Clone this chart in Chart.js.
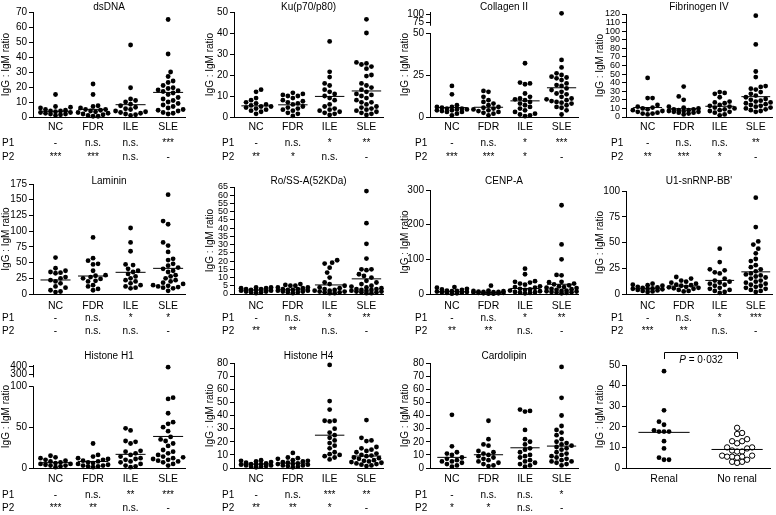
<!DOCTYPE html>
<html><head><meta charset="utf-8">
<script src="https://cdn.jsdelivr.net/npm/chart.js@4.4.1/dist/chart.umd.min.js"></script>
<style>
html,body{margin:0;padding:0;background:#fff;}
#wrap{position:relative;width:776px;height:515px;overflow:hidden;background:#fff;}
canvas{position:absolute;}
</style></head><body><div id="wrap"></div>
<script>
// ---------------- categories ----------------
const groups = ['NC', 'FDR', 'ILE', 'SLE'];
const renalGroups = ['Renal', 'No renal'];
const yTitle = 'IgG : IgM ratio';

// ---------------- dsDNA ----------------
const dsDNA_NC  = [15, 7, 6.5, 6, 5, 4.5, 4, 4, 3.5, 3, 3, 2.5, 2, 2, 1.5, 1];
const dsDNA_FDR = [22, 15, 7.5, 7, 6, 5, 5, 4.5, 4, 3.5, 3, 2.5, 2, 1.5, 1, 0.5, 0.5];
const dsDNA_ILE = [48, 19.5, 12, 11, 10, 8.5, 7.5, 6.5, 5.5, 5, 4, 3.5, 3, 2.5, 2, 1.5, 1];
const dsDNA_SLE = [65, 42, 30, 27, 24, 23, 21, 19.5, 19, 18, 17.5, 17, 16, 15, 13, 12, 11, 10, 9, 8, 7, 6, 5, 4.5, 4, 3, 2.5, 2];
const dsDNA_median = [3.8, 5.1, 8.2, 16.4];
const dsDNA_ticks = [0, 10, 20, 30, 40, 50, 60, 70];
const dsDNA_P1 = ['-', 'n.s.', 'n.s.', '***'];
const dsDNA_P2 = ['***', '***', 'n.s.', '-'];

// ---------------- Ku(p70/p80) ----------------
const ku_NC  = [13, 12, 9, 8, 7, 6.5, 6, 5.5, 5, 5, 4.5, 4, 3.5, 3, 2.5, 1.5];
const ku_FDR = [11.5, 11, 10.5, 10, 10, 9, 8, 7.5, 7, 6.5, 6, 5, 4.5, 4, 3.5, 3, 2, 1.5, 0.5];
const ku_ILE = [36, 21.5, 19, 16, 15, 13, 12, 11, 10, 9, 8, 6, 5, 4, 3.5, 3, 2.5, 2, 1.5, 1];
const ku_SLE = [46.5, 40, 26, 25.5, 25, 24, 23, 20, 19.5, 16, 15, 14, 13, 12, 11, 10.5, 10, 9, 8, 7, 7, 6, 5, 4.5, 4, 3.5, 3, 2.5, 2, 1.5, 1];
const ku_median = [5.3, 5.8, 9.8, 12.4];
const ku_ticks = [0, 10, 20, 30, 40, 50];
const ku_P1 = ['-', 'n.s.', '*', '**'];
const ku_P2 = ['**', '*', 'n.s.', '-'];

// ---------------- Collagen II ----------------
const col_NC  = [18.5, 13.5, 7, 6, 6, 5.5, 5, 5, 4.5, 4.5, 4, 4, 3.5, 3, 3, 2, 1];
const col_FDR = [15.5, 15, 12, 10, 9, 8, 7, 6, 5.5, 5, 4.5, 4, 3.5, 3, 2.5, 2, 1];
const col_ILE = [32, 20.5, 20, 19.5, 14, 12, 11, 10.5, 10, 9, 8, 7, 6, 5, 4, 3, 2, 1.5, 1, 0.5];
const col_SLE = [104, 34, 29.5, 26, 25, 24, 23.5, 23, 22, 20, 19, 18.5, 17, 16, 15, 14, 13.5, 12, 11, 10.5, 10, 9.5, 9, 8.5, 8, 7, 6, 5.5, 4, 1.5];
const col_median = [5.6, 5.8, 9.6, 17.4];
const col_ticks = [0, 25, 50, 75, 100];
const col_P1 = ['-', 'n.s.', '*', '***'];
const col_P2 = ['***', '***', '*', '-'];

// ---------------- Fibrinogen IV ----------------
const fib_NC  = [45.5, 22, 22, 14, 12, 11, 10, 9, 8, 7, 6, 5, 4, 4, 3];
const fib_FDR = [35.5, 24, 20, 12, 11, 10, 9, 9, 8, 8, 7, 7, 6, 6, 5, 5, 4, 3];
const fib_ILE = [29, 28, 27, 23, 18, 17, 16, 14, 13, 12, 11, 10, 9, 8, 7, 6, 5, 3, 2];
const fib_SLE = [118, 84.5, 53, 46.5, 36, 35, 33, 32, 29, 27, 25, 23, 21, 20, 19, 18, 17, 16, 15, 14, 13, 12, 11, 10, 9, 8, 7, 6];
const fib_median = [11, 9.6, 12.5, 23.7];
const fib_ticks = [0, 10, 20, 30, 40, 50, 60, 70, 80, 90, 100, 110, 120];
const fib_P1 = ['-', 'n.s.', 'n.s.', '**'];
const fib_P2 = ['**', '***', '*', '-'];

// ---------------- Laminin ----------------
const lam_NC  = [58, 41, 37, 35, 34, 33, 27, 25, 22, 20, 17, 12, 10, 6, 4, 3];
const lam_FDR = [90, 57, 53, 48, 47, 37, 30, 29, 27, 25, 24, 21, 20, 14, 12, 8, 6];
const lam_ILE = [105, 82, 68, 47, 46, 40, 37, 35, 32, 28, 25, 22, 20, 17, 14, 12, 10, 9];
const lam_SLE = [158, 116, 111, 82, 77, 67, 56, 54, 48, 45, 42, 40, 37, 35, 30, 28, 25, 22, 20, 18, 16, 14, 13, 12, 11, 10, 9, 5];
const lam_median = [22.3, 28.6, 34.5, 40.8];
const lam_ticks = [0, 25, 50, 75, 100, 125, 150, 175];
const lam_P1 = ['-', 'n.s.', '*', '*'];
const lam_P2 = ['-', 'n.s.', 'n.s.', '-'];

// ---------------- Ro/SS-A(52KDa) ----------------
const ro_NC  = [4, 4, 3.5, 3.5, 3, 3, 2.5, 2.5, 2, 2, 1.5, 1.5, 1, 1, 0.5];
const ro_FDR = [6, 5.5, 5, 5, 4, 4, 3.5, 3, 3, 2.5, 2.5, 2, 2, 1.5, 1.5, 1, 1, 0.5];
const ro_ILE = [20.5, 19, 18.5, 16, 13, 10, 7, 6, 5, 4, 3.5, 3, 2.5, 2, 2, 1.5, 1.5, 1, 1, 0.5, 0.5];
const ro_SLE = [62.5, 43, 30.5, 21.5, 15, 15, 14.5, 12, 11, 10, 8, 7, 6, 5, 4.5, 4, 3.5, 3, 3, 2.5, 2.5, 2, 2, 1.5, 1.5, 1, 1, 0.5, 0.5];
const ro_median = [2.4, 2.5, 5.5, 9.2];
const ro_ticks = [0, 5, 10, 15, 20, 25, 30, 35, 40, 45, 50, 55, 60, 65];
const ro_P1 = ['-', 'n.s.', '*', '**'];
const ro_P2 = ['**', '**', 'n.s.', '-'];

// ---------------- CENP-A ----------------
const cenp_NC  = [20, 18, 15, 13, 12, 10, 9, 8, 7, 6, 5, 4, 3, 2, 1];
const cenp_FDR = [24, 10, 9, 8, 7, 6, 6, 5, 4, 4, 3, 3, 2, 2, 1, 1];
const cenp_ILE = [73, 57, 37, 35, 33, 30, 27, 22, 20, 18, 15, 13, 12, 10, 8, 6, 5, 4, 3, 2];
const cenp_SLE = [256, 143, 100, 55, 54, 35, 34, 30, 28, 25, 22, 20, 18, 17, 15, 14, 12, 10, 9, 8, 7, 6, 5, 4, 3, 2];
const cenp_median = [6.7, 5, 16, 28];
const cenp_ticks = [0, 100, 200, 300];
const cenp_P1 = ['-', 'n.s.', '*', '**'];
const cenp_P2 = ['**', '**', 'n.s.', '-'];

// ---------------- U1-snRNP-BB' ----------------
const u1_NC  = [10, 9, 8.5, 8, 7, 6.5, 6, 5.5, 5, 5, 4.5, 4, 3.5, 3, 2.5, 2];
const u1_FDR = [16.5, 15, 13, 12, 11, 10, 9, 8.5, 8, 7, 6.5, 6, 5.5, 5, 4, 3, 2.5];
const u1_ILE = [44, 31, 24, 23, 21, 20, 15, 13, 12, 11, 10, 9, 8, 6, 5, 4, 3, 2, 1];
const u1_SLE = [93.5, 65, 51, 48, 44, 39.5, 34, 32, 28, 26, 24, 22, 20, 19, 18, 17, 16, 15, 13, 12, 11, 10, 9, 8, 7, 6, 5, 4, 3, 2];
const u1_median = [5.1, 7.7, 13.2, 21.5];
const u1_ticks = [0, 25, 50, 75, 100];
const u1_P1 = ['-', 'n.s.', '*', '***'];
const u1_P2 = ['***', '**', 'n.s.', '-'];

// ---------------- Histone H1 ----------------
const h1_NC  = [15, 13, 12, 10, 9, 8, 7, 6, 5, 5, 4, 3, 3, 2, 1];
const h1_FDR = [30, 16, 14, 12, 11, 10, 9, 8, 7, 6, 5, 4, 3, 3, 2, 2, 1];
const h1_ILE = [48.5, 46, 33, 32, 30, 21, 20, 18, 16, 14, 12, 11, 10, 8, 7, 5, 3, 2, 1];
const h1_SLE = [390, 86, 84.5, 67, 56, 54, 50, 45, 38, 35, 33, 30, 27, 22, 20, 18, 16, 14, 13, 12, 11, 10, 9, 8, 7, 5, 3];
const h1_median = [6.5, 8, 16.7, 38.6];
const h1_ticks = [0, 50, 100, 300, 400];
const h1_P1 = ['-', 'n.s.', '**', '***'];
const h1_P2 = ['***', '**', 'n.s.', '-'];

// ---------------- Histone H4 ----------------
const h4_NC  = [6, 5.5, 5, 4.5, 4, 3.5, 3, 3, 2.5, 2.5, 2, 2, 1.5, 1, 1, 0.5];
const h4_FDR = [11.5, 8, 7.5, 7, 6, 5.5, 5, 4.5, 4, 3.5, 3, 3, 2.5, 2, 2, 1.5, 1, 0.5];
const h4_ILE = [78.5, 51, 44.5, 36, 36, 35.5, 30, 27, 25, 23, 21, 19, 17, 15, 12, 10.5, 10, 9, 8, 6.5];
const h4_SLE = [36.5, 23, 21, 20.5, 16, 15, 14, 13, 12, 11, 10, 9.5, 9, 8, 7.5, 7, 6, 5.5, 5, 4.5, 4, 3.5, 3, 2.5, 2, 1.5];
const h4_median = [3, 3.7, 25, 9.1];
const h4_ticks = [0, 10, 20, 30, 40, 50, 60, 70, 80];
const h4_P1 = ['-', 'n.s.', '***', '**'];
const h4_P2 = ['**', '**', '*', '-'];

// ---------------- Cardolipin ----------------
const card_NC  = [40.5, 16.5, 12, 11, 10, 8, 7, 6, 5, 5, 4, 3, 2, 1];
const card_FDR = [36, 22, 18, 17, 13, 12, 11, 10, 9, 8, 7, 6, 5, 4, 3, 2, 1.5];
const card_ILE = [44.5, 43.5, 43, 29, 22, 20, 18, 15, 14, 12, 10, 9, 8, 6, 5, 4, 3, 2, 1];
const card_SLE = [77, 53.5, 40, 32, 29, 27, 25, 22, 20, 19, 18, 17, 16, 15, 14, 12, 11, 10, 9, 8, 7, 6, 5, 5, 4, 3, 2];
const card_median = [8.1, 10.1, 15.4, 16.7];
const card_ticks = [0, 10, 20, 30, 40, 50, 60, 70, 80];
const card_P1 = ['-', 'n.s.', 'n.s.', '*'];
const card_P2 = ['*', '*', 'n.s.', '-'];

// ---------------- Renal vs no renal ----------------
const renal_Renal   = [47, 28, 22.5, 21, 18.3, 17.7, 17.7, 17.7, 13, 9.5, 5, 4, 4];
const renal_NoRenal = [19.5, 17, 16.5, 14, 13, 13, 12, 10, 10, 9.5, 8.5, 8, 8, 6, 6, 5.5, 5.5, 5.5, 5, 4, 3, 3, 2.5];
const renal_median = [17.3, 9.0];
const renal_ticks = [0, 10, 20, 30, 40, 50];
const renal_pText = '0·032';

// ---------------- broken-axis transforms ----------------
const ident = v => v;
function collagenT(v) { return v <= 50 ? v : (v < 75 ? 50 + (v - 50) * 6.4 / 25 : 56.4 + (v - 75) * 0.184); }
function h1T(v) { return v <= 100 ? v : (v < 300 ? 100 + (v - 100) * 14.2 / 200 : 114.2 + (v - 300) * 0.102); }

// ---------------- layout (positions only) ----------------
const COLS = [
  {x0: 0,   w: 195, L: 33,  R: 185, ytX: 6,   pX: 2},
  {x0: 195, w: 195, L: 234, R: 383, ytX: 210, pX: 222},
  {x0: 390, w: 195, L: 430, R: 578, ytX: 405, pX: 415},
  {x0: 585, w: 191, L: 626, R: 774, ytX: 600, pX: 611}
];
const ROWS = [
  {y0: 0,   h: 172, B: 117, titleY: 7.5, labY: 127, p1Y: 143, p2Y: 157},
  {y0: 172, h: 172, B: 294, titleY: 181, labY: 306, p1Y: 318, p2Y: 331},
  {y0: 344, h: 171, B: 468, titleY: 356, labY: 479, p1Y: 495, p2Y: 508}
];

const panels = [
  {title: 'dsDNA', row: 0, col: 0, T: 12, cats: groups, series: [dsDNA_NC, dsDNA_FDR, dsDNA_ILE, dsDNA_SLE], med: dsDNA_median, ticks: dsDNA_ticks, p1: dsDNA_P1, p2: dsDNA_P2},
  {title: 'Ku(p70/p80)', row: 0, col: 1, T: 12, cats: groups, series: [ku_NC, ku_FDR, ku_ILE, ku_SLE], med: ku_median, ticks: ku_ticks, p1: ku_P1, p2: ku_P2},
  {title: 'Collagen II', row: 0, col: 2, T: 12, cats: groups, series: [col_NC, col_FDR, col_ILE, col_SLE], med: col_median, ticks: col_ticks, p1: col_P1, p2: col_P2, tf: collagenT, yMaxT: 62.5, breaks: [[0, 50], [54.6, 62.5]]},
  {title: 'Fibrinogen IV', row: 0, col: 3, T: 14, cats: groups, series: [fib_NC, fib_FDR, fib_ILE, fib_SLE], med: fib_median, ticks: fib_ticks, p1: fib_P1, p2: fib_P2, dense: true},
  {title: 'Laminin', row: 1, col: 0, T: 184, cats: groups, series: [lam_NC, lam_FDR, lam_ILE, lam_SLE], med: lam_median, ticks: lam_ticks, p1: lam_P1, p2: lam_P2},
  {title: 'Ro/SS-A(52KDa)', row: 1, col: 1, T: 187, cats: groups, series: [ro_NC, ro_FDR, ro_ILE, ro_SLE], med: ro_median, ticks: ro_ticks, p1: ro_P1, p2: ro_P2, dense: true},
  {title: 'CENP-A', row: 1, col: 2, T: 190, cats: groups, series: [cenp_NC, cenp_FDR, cenp_ILE, cenp_SLE], med: cenp_median, ticks: cenp_ticks, p1: cenp_P1, p2: cenp_P2},
  {title: "U1-snRNP-BB'", row: 1, col: 3, T: 191, cats: groups, series: [u1_NC, u1_FDR, u1_ILE, u1_SLE], med: u1_median, ticks: u1_ticks, p1: u1_P1, p2: u1_P2},
  {title: 'Histone H1', row: 2, col: 0, T: 365, cats: groups, series: [h1_NC, h1_FDR, h1_ILE, h1_SLE], med: h1_median, ticks: h1_ticks, p1: h1_P1, p2: h1_P2, tf: h1T, yMaxT: 126, breaks: [[0, 100], [111.5, 126]]},
  {title: 'Histone H4', row: 2, col: 1, T: 363, cats: groups, series: [h4_NC, h4_FDR, h4_ILE, h4_SLE], med: h4_median, ticks: h4_ticks, p1: h4_P1, p2: h4_P2},
  {title: 'Cardolipin', row: 2, col: 2, T: 363, cats: groups, series: [card_NC, card_FDR, card_ILE, card_SLE], med: card_median, ticks: card_ticks, p1: card_P1, p2: card_P2},
  {title: null, row: 2, col: 3, T: 365, R: 770, cats: renalGroups, series: [renal_Renal, renal_NoRenal], med: renal_median, ticks: renal_ticks, open: [false, true], renal: true}
];

const FONT = '"Liberation Sans", Arial, Helvetica, sans-serif';
Chart.defaults.font.family = FONT;
Chart.defaults.color = '#000';

// deterministic beeswarm layout (x offsets in axis units)
function swarmOffsets(vals, tf, pyu, pxu, D, maxHalfPx) {
  const order = vals.map((v, i) => i).sort((a, b) => tf(vals[a]) - tf(vals[b]));
  const placed = [];
  const out = new Array(vals.length);
  const step = D * 0.5;
  order.forEach((i, n) => {
    const y = tf(vals[i]) * pyu;
    let best = 0, bestScore = Infinity;
    const sgn = (n % 2) ? 1 : -1;
    for (let k = 0; k <= 80; k++) {
      const m = Math.ceil(k / 2);
      const x = k === 0 ? 0 : ((k % 2) ? sgn : -sgn) * m * step;
      if (Math.abs(x) > maxHalfPx) break;
      let ov = 0;
      for (const p of placed) {
        const d = Math.hypot(p.x - x, p.y - y);
        if (d < D) ov += D - d;
      }
      if (ov === 0) { best = x; bestScore = 0; break; }
      if (ov < bestScore) { bestScore = ov; best = x; }
    }
    placed.push({x: best, y});
    out[i] = best / pxu;
  });
  return out;
}

const wrap = document.getElementById('wrap');

panels.forEach(p => {
  const c = COLS[p.col], r = ROWS[p.row];
  const R = p.R || c.R;
  const tf = p.tf || ident;
  const yMax = p.yMaxT || p.ticks[p.ticks.length - 1];
  const xmin = p.renal ? 0.48 : 0.4;
  const xmax = p.renal ? 2.45 : 4.45;
  const pyu = (r.B - p.T) / yMax;
  const pxu = (R - c.L) / (xmax - xmin);
  const maxHalf = p.renal ? 24 : 16;

  const canvas = document.createElement('canvas');
  canvas.width = c.w; canvas.height = r.h;
  canvas.style.left = c.x0 + 'px'; canvas.style.top = r.y0 + 'px';
  canvas.style.width = c.w + 'px'; canvas.style.height = r.h + 'px';
  wrap.appendChild(canvas);

  const datasets = [];
  p.med.forEach((m, gi) => {
    const half = p.renal ? 0.35 : 0.4;
    datasets.push({
      data: [{x: gi + 1 - half, y: tf(m)}, {x: gi + 1 + half, y: tf(m)}],
      showLine: true, borderColor: '#000', borderWidth: 1, pointRadius: 0, clip: false
    });
  });
  p.series.forEach((vals, gi) => {
    const offs = swarmOffsets(vals, tf, pyu, pxu, 5.0, maxHalf);
    const open = p.open && p.open[gi];
    datasets.push({
      data: vals.map((v, i) => ({x: gi + 1 + offs[i], y: tf(v)})),
      showLine: false,
      pointRadius: open ? 2.7 : 2.4,
      pointBackgroundColor: open ? '#fff' : '#000',
      pointBorderColor: '#000',
      pointBorderWidth: open ? 1 : 0,
      clip: false
    });
  });

  const tickFont = p.dense ? 9 : 10;
  const labFont = 10.5;
  const labPad = (r.labY - r.B) - labFont * 1.2 / 2;

  const deco = {
    id: 'deco',
    afterDraw(chart) {
      const ctx = chart.ctx, ca = chart.chartArea;
      const xs = chart.scales.x, ys = chart.scales.y;
      ctx.save();
      ctx.fillStyle = '#000'; ctx.strokeStyle = '#000'; ctx.lineWidth = 1;
      ctx.font = '10px ' + FONT;
      ctx.textAlign = 'center'; ctx.textBaseline = 'middle';
      if (p.title) ctx.fillText(p.title, (ca.left + ca.right) / 2, r.titleY - r.y0);
      // y axis title
      ctx.save();
      ctx.translate(c.ytX - c.x0, (ca.top + ca.bottom) / 2);
      ctx.rotate(-Math.PI / 2);
      ctx.fillText(yTitle, 0, 0);
      ctx.restore();
      // significance rows
      if (p.p1) {
        ctx.textAlign = 'left';
        ctx.fillText('P1', c.pX - c.x0, r.p1Y - r.y0);
        ctx.fillText('P2', c.pX - c.x0, r.p2Y - r.y0);
        ctx.textAlign = 'center';
        p.p1.forEach((t, i) => ctx.fillText(t, xs.getPixelForValue(i + 1), r.p1Y - r.y0));
        p.p2.forEach((t, i) => ctx.fillText(t, xs.getPixelForValue(i + 1), r.p2Y - r.y0));
      }
      // broken y axis
      if (p.breaks) {
        const ax = Math.round(ca.left - 0.5) + 0.5;
        p.breaks.forEach(([a, b]) => {
          ctx.beginPath();
          ctx.moveTo(ax, ys.getPixelForValue(a) + 0.5);
          ctx.lineTo(ax, ys.getPixelForValue(b));
          ctx.stroke();
        });
      }
      // bracket with P value
      if (p.renal) {
        const xa = Math.round(xs.getPixelForValue(1)) + 0.5;
        const xb = Math.round(xs.getPixelForValue(2)) + 0.5;
        const yt = 352.5 - r.y0, yl = 359 - r.y0;
        ctx.beginPath();
        ctx.moveTo(xa, yl); ctx.lineTo(xa, yt); ctx.lineTo(xb, yt); ctx.lineTo(xb, yl);
        ctx.stroke();
        const italic = 'italic 10px ' + FONT, normal = '10px ' + FONT;
        ctx.font = italic; const w1 = ctx.measureText('P').width;
        ctx.font = normal; const rest = ' = ' + renal_pText; const w2 = ctx.measureText(rest).width;
        const cx = (xa + xb) / 2, ty = 360 - r.y0;
        let sx = cx - (w1 + w2) / 2;
        ctx.textAlign = 'left';
        ctx.font = italic; ctx.fillText('P', sx, ty);
        ctx.font = normal; ctx.fillText(rest, sx + w1, ty);
      }
      ctx.restore();
    }
  };

  new Chart(canvas, {
    type: 'scatter',
    data: {datasets},
    options: {
      responsive: false, animation: false, events: [],
      devicePixelRatio: 1,
      layout: {padding: {top: p.T - r.y0, right: (c.x0 + c.w) - R, bottom: 0, left: 0}},
      plugins: {legend: {display: false}, tooltip: {enabled: false}, title: {display: false}},
      scales: {
        x: {
          type: 'linear', position: 'bottom', min: xmin, max: xmax,
          afterBuildTicks: s => { s.ticks = p.cats.map((_, i) => ({value: i + 1})); },
          afterFit: s => { s.height = r.h - (r.B - r.y0); },
          ticks: {autoSkip: false, maxRotation: 0, minRotation: 0, color: '#000', font: {size: labFont}, padding: labPad,
                  callback: (v, i) => p.cats[i]},
          grid: {display: false, drawTicks: false, drawOnChartArea: false},
          border: {display: true, color: '#000', width: 1}
        },
        y: {
          type: 'linear', position: 'left', min: 0, max: yMax,
          afterBuildTicks: s => { s.ticks = p.ticks.map(v => ({value: tf(v)})); },
          afterFit: s => { s.width = c.L - c.x0; },
          ticks: {autoSkip: false, color: '#000', font: {size: tickFont}, padding: 2,
                  callback: (v, i) => String(p.ticks[i])},
          grid: {display: true, drawOnChartArea: false, drawTicks: true, tickLength: 4, color: '#000', lineWidth: 1},
          border: {display: !p.breaks, color: '#000', width: 1}
        }
      }
    },
    plugins: [deco]
  });
});
</script>
</body></html>
